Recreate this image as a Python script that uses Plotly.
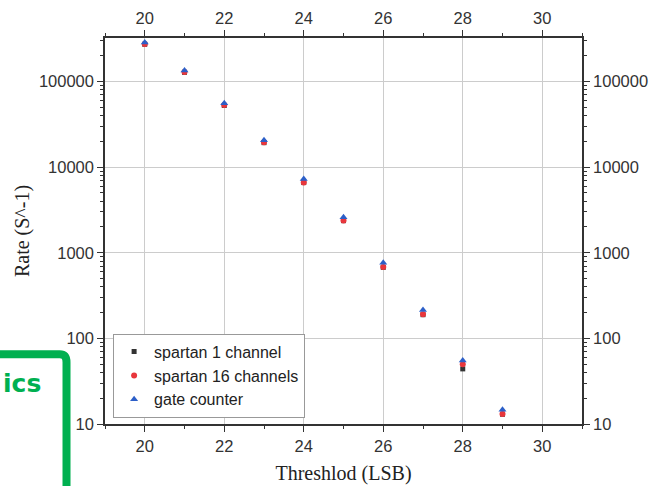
import plotly.graph_objects as go

thresholds = [20, 21, 22, 23, 24, 25, 26, 27, 28, 29]
spartan_1ch = [272000, 128000, 52500, 19300, 6600, 2370, 675, 189, 44, 13]
spartan_16ch = [274000, 129000, 53000, 19500, 6620, 2380, 680, 191, 50, 13.1]
gate_counter = [286000, 134000, 55900, 20600, 7260, 2590, 764, 215, 55, 14.7]

x_ticks = [20, 22, 24, 26, 28, 30]
y_ticks = [10, 100, 1000, 10000, 100000]
y_minor = [d * m for d in [10, 100, 1000, 10000, 100000] for m in range(2, 10)]

fig = go.Figure()
fig.add_trace(go.Scatter(x=thresholds, y=spartan_1ch, mode="markers", name="spartan 1 channel",
                         marker=dict(symbol="square", size=5, color="#333333")))
fig.add_trace(go.Scatter(x=thresholds, y=spartan_16ch, mode="markers", name="spartan 16 channels",
                         marker=dict(symbol="circle", size=6, color="#e8363c")))
fig.add_trace(go.Scatter(x=thresholds, y=gate_counter, mode="markers", name="gate counter",
                         marker=dict(symbol="triangle-up", size=7, color="#2c5fc8")))
# invisible trace to anchor mirrored axes
fig.add_trace(go.Scatter(x=thresholds, y=gate_counter, mode="markers", xaxis="x2", yaxis="y2",
                         marker=dict(opacity=0), showlegend=False, hoverinfo="skip"))

tickfont = dict(family="Liberation Sans, Arial", size=16.5, color="#333333")
title_font = dict(family="Liberation Serif, Times New Roman", size=20, color="#222")
common_x = dict(range=[19, 31], tickvals=x_ticks, ticks="outside", ticklen=6, tickwidth=1.2,
                tickcolor="#333", linecolor="#333", linewidth=1.5, tickfont=tickfont,
                automargin=False,
                minor=dict(dtick=1, tick0=19, ticks="outside", ticklen=3, tickcolor="#333", showgrid=False))
common_y = dict(type="log", range=[1, 5.508], tickvals=y_ticks, ticks="outside", ticklen=6,
                tickwidth=1.2, tickcolor="#333", linecolor="#333", linewidth=1.5, tickfont=tickfont,
                tickformat="d", automargin=False,
                minor=dict(tickvals=y_minor, ticks="outside", ticklen=3, tickcolor="#333", showgrid=False))

fig.update_layout(
    width=654, height=486,
    margin=dict(l=105, r=72, t=38, b=62),
    plot_bgcolor="white", paper_bgcolor="white",
    showlegend=True,
    legend=dict(x=0.017, y=0.234, xanchor="left", yanchor="top",
                bgcolor="white", bordercolor="#999999", borderwidth=1,
                font=dict(family="Liberation Sans, Arial", size=16, color="#222"),
                itemsizing="trace", tracegroupgap=0),
    xaxis=dict(**common_x, showgrid=True, gridcolor="#cccccc", gridwidth=1,
               title=dict(text="Threshlod (LSB)", font=title_font, standoff=12),
               zeroline=False),
    xaxis2=dict(**common_x, overlaying="x", side="top", showgrid=False, zeroline=False),
    yaxis=dict(**common_y, showgrid=True, gridcolor="#cccccc", gridwidth=1,
               title=dict(text="Rate (S^-1)", font=title_font, standoff=4)),
    yaxis2=dict(**common_y, overlaying="y", side="right", showgrid=False),
)

# green frame overlay from the slide (partial, at the lower-left)
fig.add_shape(type="path", xref="paper", yref="paper",
              path="M -0.25 0.181 L -0.095 0.181 Q -0.0807 0.181 -0.0807 0.160 L -0.0807 -0.2",
              line=dict(color="#00b050", width=8))
fig.add_annotation(xref="paper", yref="paper", x=-0.2180, y=0.106, xanchor="left", yanchor="middle",
                   text="<b>ics</b>", showarrow=False,
                   font=dict(family="DejaVu Sans", size=25, color="#00b050"))

fig.write_html("out.html")
